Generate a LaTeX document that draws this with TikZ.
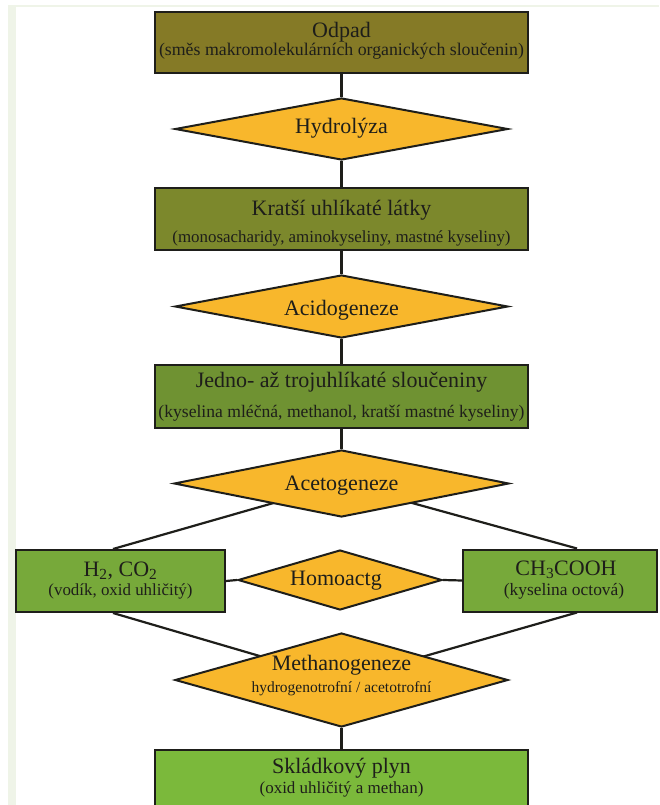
\documentclass[tikz,border=0pt]{standalone}
\usepackage{fontspec}
\setmainfont{Liberation Serif}
\usetikzlibrary{shapes.geometric}
\pgfdeclarelayer{bg}
\pgfsetlayers{bg,main}
\definecolor{cA}{HTML}{857A26}
\definecolor{cB}{HTML}{7C882C}
\definecolor{cC}{HTML}{6F9232}
\definecolor{cD}{HTML}{77A93A}
\definecolor{cE}{HTML}{7BB93B}
\definecolor{cY}{HTML}{F8B72C}
\definecolor{cL}{HTML}{1E1E1A}
\definecolor{cS}{HTML}{EFF4E8}
\tikzset{
  box/.style={draw=cL, line width=2pt, rectangle, inner sep=0pt},
  dia/.style={draw=cL, line width=2pt, diamond, fill=cY, inner sep=0pt},
  conn/.style={draw=cL, line width=2.2pt},
  ttl/.style={anchor=base, inner sep=0pt, text=cL, font=\fontsize{22}{26}\selectfont},
  subt/.style={anchor=base, inner sep=0pt, text=cL, font=\fontsize{#1}{20}\selectfont},
  subt/.default=17,
}
\begin{document}
\begin{tikzpicture}[x=1pt,y=-1pt]
\useasboundingbox (0,0) rectangle (659,805);
\clip (0,0) rectangle (659,805);
\fill[cS] (8,7) rectangle (16,805);
\fill[cS] (8,5) rectangle (659,7);
% shapes
\node[box, fill=cA, minimum width=373pt, minimum height=61pt] (odpad) at (341.5,43) {};
\node[dia, minimum width=333pt, minimum height=62pt] (hydro) at (341.5,129) {};
\node[box, fill=cB, minimum width=373pt, minimum height=62pt] (kratsi) at (341.5,219) {};
\node[dia, minimum width=333pt, minimum height=63pt] (acido) at (341.5,306.5) {};
\node[box, fill=cC, minimum width=373pt, minimum height=63pt] (jedno) at (341.5,396.5) {};
\node[dia, minimum width=335pt, minimum height=67pt] (aceto) at (341.5,483.5) {};
\node[box, fill=cD, minimum width=209pt, minimum height=62pt] (hbox) at (120.5,581) {};
\node[box, fill=cD, minimum width=194pt, minimum height=62pt] (cbox) at (560,580.5) {};
\node[dia, minimum width=204pt, minimum height=60pt] (homo) at (340,580) {};
\node[dia, minimum width=333pt, minimum height=94pt] (methano) at (341.5,680) {};
\node[box, fill=cE, minimum width=373pt, minimum height=80pt, anchor=north] (plyn) at (341.5,749) {};
% texts
\node[ttl] (t1) at (341.5,38) {Odpad};
\node[subt=17.8] (s1) at (341.5,56) {(směs makromolekulárních organických sloučenin)};
\node[ttl] (t2) at (341.5,134) {Hydrolýza};
\node[ttl] (t3) at (341.5,215) {Kratší uhlíkaté látky};
\node[subt=16.9] (s3) at (341.5,242) {(monosacharidy, aminokyseliny, mastné kyseliny)};
\node[ttl] (t4) at (341.5,315) {Acidogeneze};
\node[ttl] (t5) at (341.5,387) {Jedno- až trojuhlíkaté sloučeniny};
\node[subt=17.6] (s5) at (341.5,417) {(kyselina mléčná, methanol, kratší mastné kyseliny)};
\node[ttl] (t6) at (341.5,490) {Acetogeneze};
\node[ttl] (t7) at (120.5,576) {H\textsubscript{2}, CO\textsubscript{2}};
\node[subt=16.9] (s7) at (120.5,595) {(vodík, oxid uhličitý)};
\node[ttl] (t8) at (566,575) {CH\textsubscript{3}COOH};
\node[subt=17.4] (s8) at (564,595) {(kyselina octová)};
\node[ttl] (t9) at (336,585) {Homoactg};
\node[ttl] (t10) at (341.5,670) {Methanogeneze};
\node[subt=15.5] (s10) at (341.5,692) {hydrogenotrofní / acetotrofní};
\node[ttl] (t11) at (341.5,773) {Skládkový plyn};
\node[subt=17] (s11) at (341.5,793) {(oxid uhličitý a methan)};
% connectors
\begin{pgfonlayer}{bg}
\draw[conn] (odpad.south) -- (hydro.north);
\draw[conn] (hydro.south) -- (kratsi.north);
\draw[conn] (kratsi.south) -- (acido.north);
\draw[conn] (acido.south) -- (jedno.north);
\draw[conn] (jedno.south) -- (aceto.north);
\draw[conn] ([xshift=-7.5pt]hbox.north) -- (aceto.center);
\draw[conn] ([xshift=17pt]cbox.north) -- (aceto.center);
\draw[conn] (hbox.east) -- (homo.west);
\draw[conn] (homo.east) -- (cbox.west);
\draw[conn] ([xshift=-7.5pt]hbox.south) -- (methano.center);
\draw[conn] ([xshift=17pt]cbox.south) -- (methano.center);
\draw[conn] (methano.south) -- (plyn.north);
\end{pgfonlayer}
\end{tikzpicture}
\end{document}
